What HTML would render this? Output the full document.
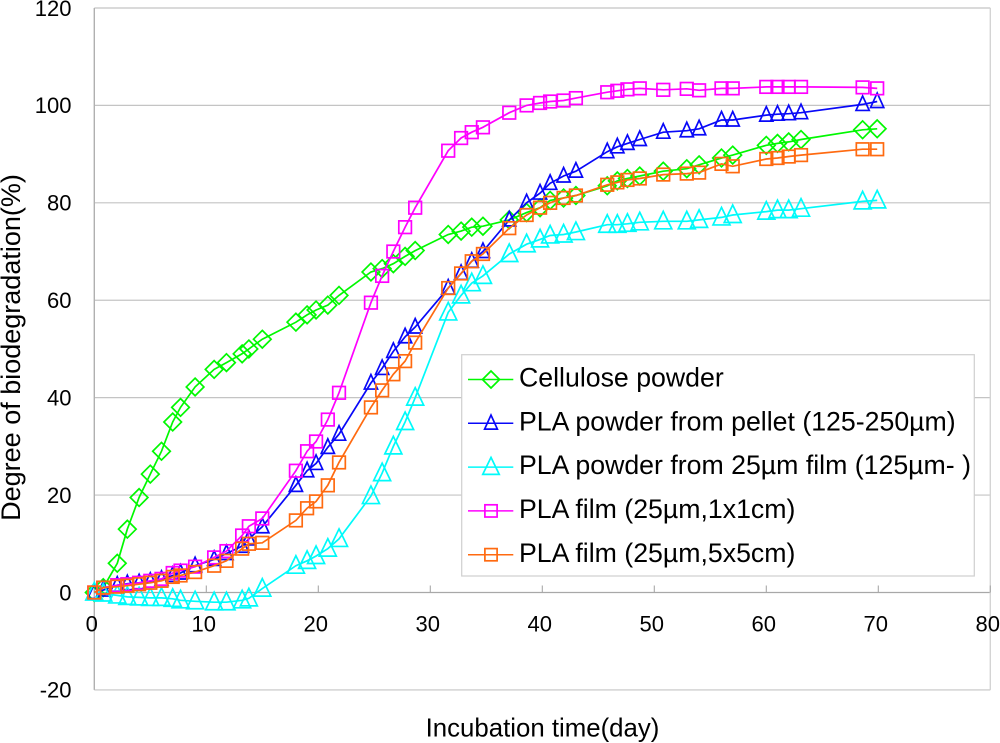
<!DOCTYPE html>
<html lang="en">
<head>
<meta charset="utf-8">
<title>Degree of biodegradation</title>
<style>
html,body{margin:0;padding:0;background:#fff;}
#chart{display:block;width:1000px;height:743px;font-family:"Liberation Sans",sans-serif;}
</style>
</head>
<body>
<svg id="chart" xmlns="http://www.w3.org/2000/svg" width="1000" height="743" viewBox="0 0 1000 743">
<rect x="0" y="0" width="1000" height="743" fill="#fff"/>
<g id="grid"></g>
<g id="axes"></g>
<g id="series"></g>
<text transform="translate(20,347.5) rotate(-90)" text-anchor="middle" font-size="27" fill="#000">Degree of biodegradation(%)</text>
<text x="542.5" y="736.5" text-anchor="middle" font-size="25.8" fill="#000">Incubation time(day)</text>
<g id="legend"></g>
</svg>
<script>
const days = [0,0.8,2.05,2.95,4,5,6,7,7.7,9,10.7,11.8,13.2,13.8,15,18,19,19.8,20.85,21.85,24.7,25.7,26.7,27.75,28.65,31.6,32.75,33.7,34.7,37.05,38.6,39.8,40.7,41.9,43,45.8,46.7,47.6,48.7,50.8,52.9,54,56,57,60,61,62,63.1,68.6,69.9];
const cellulose = [0,1,6,13,19.5,24.3,29,35,38,42.2,45.8,47.2,49,50,52,55.5,57,58,59,61,65.8,66.5,67.5,69,70.2,73.5,74.2,75,75.2,76.5,78,79,80.5,81,81.5,83.5,84.5,85,85.5,86.5,87,87.8,89.2,89.8,91.8,92.2,92.5,93,95,95.2];
const pelletPowder = [0,0.5,1.5,1.8,2,2.3,2.7,3.5,4,5.5,6.8,8,9.5,11,13.5,22,25,26.5,29.8,32.5,43,46,49.5,52.5,54.5,62.5,65.5,68,70,76.5,80,82,84,85.5,86.5,90.5,91.5,92.2,93,94.5,94.8,95.2,97,97,98,98.2,98.3,98.5,100.2,100.8];
const filmPowder = [0,-0.2,-0.6,-0.9,-1,-1.1,-1.1,-1.3,-1.6,-1.8,-2,-2,-1.6,-1.2,0.8,5.5,6.5,7.5,9,11,19.8,24.5,30,35,40,57.5,61,63.5,65,69.5,71.5,72.5,73.3,73.5,74,75.5,75.5,75.7,76,76.2,76.2,76.5,77,77.5,78.2,78.5,78.5,78.8,80.3,80.5];
const filmSmall = [0,1,1.5,1.7,2,2.4,2.8,4,4.5,5.3,7.2,8.5,11.7,13.6,15.2,25,29,31,35.5,41,59.5,65,70,75,79,90.7,93.3,94.5,95.5,98.5,100,100.5,100.8,101,101.5,102.7,103,103.3,103.5,103.2,103.4,103.1,103.5,103.5,103.8,103.8,103.8,103.8,103.7,103.5];
const filmLarge = [0,1,1.2,1.4,1.7,2,2.4,3.2,3.5,4.2,5.5,6.5,9,10,10.2,14.8,17.3,18.7,22,26.7,38,41.5,44.8,47.5,51.3,62.5,65.5,68,69.5,74.8,77.5,79,80,81,81.5,83.7,84.2,84.7,85,85.8,86,86.2,88,87.5,89,89.2,89.5,89.8,91,91];
const xTicks = [0,10,20,30,40,50,60,70,80];
const yTicks = [-20,0,20,40,60,80,100,120];

const NS = 'http://www.w3.org/2000/svg';
const X = d => 94.3 + d * 11.2;
const Y = v => 592.5 - v * 4.871;

function make(tag, attrs, parent) {
  const el = document.createElementNS(NS, tag);
  for (const k in attrs) el.setAttribute(k, attrs[k]);
  parent.appendChild(el);
  return el;
}

function drawMarker(kind, color, cx, cy, parent, scale) {
  let el;
  if (kind === 'diamond') {
    const r = 8.8 * scale;
    el = make('polygon', {points: `${cx},${cy-r} ${cx+r},${cy} ${cx},${cy+r} ${cx-r},${cy}`, fill: 'none', stroke: color, 'stroke-width': 1.7}, parent);
  } else if (kind === 'triangle') {
    const r = 6.6 * scale;
    el = make('polygon', {points: `${cx},${cy-8.5*scale} ${cx+r},${cy+6*scale} ${cx-r},${cy+6*scale}`, fill: 'none', stroke: color, 'stroke-width': 1.7}, parent);
  } else if (kind === 'bigtriangle') {
    const r = 8.5 * scale;
    el = make('polygon', {points: `${cx},${cy-10*scale} ${cx+r},${cy+7.5*scale} ${cx-r},${cy+7.5*scale}`, fill: 'none', stroke: color, 'stroke-width': 1.7}, parent);
  } else {
    const r = 6.3 * scale;
    el = make('rect', {x: cx-r, y: cy-r, width: 2*r, height: 2*r, fill: 'none', stroke: color, 'stroke-width': 1.7}, parent);
  }
  
  
}

const gridG = document.getElementById('grid');
const axesG = document.getElementById('axes');
const seriesG = document.getElementById('series');
const legendG = document.getElementById('legend');

yTicks.forEach(t => {
  const line = make('line', {x1: X(0), x2: X(80), y1: Y(t), y2: Y(t), stroke: t === 0 ? '#a8a8a8' : '#c4c4c4', 'stroke-width': 1.2}, gridG);
  
  
  const lab = make('text', {x: 71.5, y: Y(t) + 7.8, 'text-anchor': 'end', 'font-size': 22, fill: '#000'}, axesG);
  
  
  lab.textContent = t;
});

const yAxis = make('line', {x1: X(0), x2: X(0), y1: Y(120), y2: Y(-20), stroke: '#b0b0b0', 'stroke-width': 1.4}, axesG);


const rightEdge = make('line', {x1: X(80), x2: X(80), y1: Y(120), y2: Y(-20), stroke: '#d4d4d4', 'stroke-width': 1.4}, axesG);



xTicks.forEach(t => {
  const tick = make('line', {x1: X(t), x2: X(t), y1: Y(0) - 7, y2: Y(0), stroke: '#a8a8a8', 'stroke-width': 1.1}, axesG);
  
  
  const lab = make('text', {x: X(t) - 2.5, y: 631.7, 'text-anchor': 'middle', 'font-size': 22, fill: '#000'}, axesG);
  
  
  lab.textContent = t;
});

const seriesDefs = [
  {name: 'Cellulose powder', values: cellulose, color: '#00f800', marker: 'diamond', slug: 'cellulose-powder'},
  {name: 'PLA powder from pellet (125-250\u00b5m)', values: pelletPowder, color: '#0808f8', marker: 'triangle', slug: 'pla-pellet-powder'},
  {name: 'PLA powder from 25\u00b5m film (125\u00b5m- )', values: filmPowder, color: '#00fafa', marker: 'bigtriangle', slug: 'pla-film-powder'},
  {name: 'PLA film (25\u00b5m,1x1cm)', values: filmSmall, color: '#ff00ff', marker: 'square', slug: 'pla-film-1x1'},
  {name: 'PLA film (25\u00b5m,5x5cm)', values: filmLarge, color: '#ff6a10', marker: 'square', slug: 'pla-film-5x5'}
];

seriesDefs.forEach(s => {
  const g = make('g', {}, seriesG);
  
  
  const pts = days.map((d, i) => X(d).toFixed(1) + ',' + Y(s.values[i]).toFixed(1)).join(' ');
  const line = make('polyline', {points: pts, fill: 'none', stroke: s.color, 'stroke-width': 1.7}, g);
  
  
  days.forEach((d, i) => drawMarker(s.marker, s.color, X(d), Y(s.values[i]), g, 1));
});

const box = make('rect', {x: 461.7, y: 354.7, width: 512.6, height: 221.3, fill: '#fff', stroke: '#cfcfcf', 'stroke-width': 1.2}, legendG);



seriesDefs.forEach((s, i) => {
  const cy = 379.5 + i * 43.8;
  const g = make('g', {}, legendG);
  
  
  const l = make('line', {x1: 468, x2: 513.3, y1: cy, y2: cy, stroke: s.color, 'stroke-width': 1.5}, g);
  
  
  drawMarker(s.marker, s.color, 491, cy, g, 0.97);
  const t = make('text', {x: 519, y: cy + 7.1, 'font-size': 26.7, fill: '#000'}, g);
  
  
  t.textContent = s.name;
});
</script>
</body>
</html>
